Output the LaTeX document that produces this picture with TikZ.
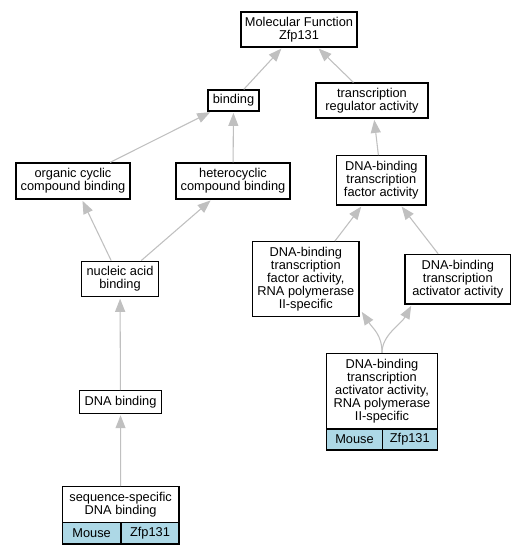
\documentclass[tikz,border=0pt]{standalone}
\usepackage{fontspec}
\setmainfont{Liberation Sans}
\usetikzlibrary{arrows.meta}
\definecolor{edgegray}{HTML}{C0C0C0}
\definecolor{cellblue}{HTML}{ADD8E6}
\begin{document}
\begin{tikzpicture}[x=0.75pt,y=-0.75pt,
  box/.style={draw=black, line width=0.9pt, fill=white, inner sep=0pt, align=center,
    font=\fontsize{9.6}{9.6}\selectfont},
  cell/.style={box, fill=cellblue},
  edge/.style={draw=edgegray, line width=0.8pt, -{Triangle[length=9.75pt,width=7.5pt]}, shorten >=1pt}]
\useasboundingbox (0,0) rectangle (528,555);
\fill[white] (0,0) rectangle (528,555);
% nodes
\node[box, minimum width=116*0.75pt, minimum height=35*0.75pt] (mf) at (299,29.5) {Molecular Function\\Zfp131};
\node[box, minimum width=51*0.75pt, minimum height=21*0.75pt] (bind) at (233.5,100.5) {binding};
\node[box, minimum width=112*0.75pt, minimum height=35*0.75pt] (tra) at (372,100.5) {transcription\\regulator activity};
\node[box, minimum width=114*0.75pt, minimum height=36*0.75pt] (org) at (73,181) {organic cyclic\\compound binding};
\node[box, minimum width=114*0.75pt, minimum height=36*0.75pt] (het) at (233,181) {heterocyclic\\compound binding};
\node[box, minimum width=76.6*0.75pt, minimum height=35.7*0.75pt] (nuc) at (120,279) {nucleic acid\\binding};
\node[box, minimum width=89.3*0.75pt, minimum height=49.3*0.75pt] (tfa) at (381.3,180.3) {DNA-binding\\transcription\\factor activity};
\node[box, minimum width=106.3*0.75pt, minimum height=75*0.75pt] (tfp) at (305.8,279.2) {DNA-binding\\transcription\\factor activity,\\RNA polymerase\\II-specific};
\node[box, minimum width=105.7*0.75pt, minimum height=49.7*0.75pt] (act) at (457.8,279.2) {DNA-binding\\transcription\\activator activity};
\node[box, minimum width=110.6*0.75pt, minimum height=75.7*0.75pt] (actp) at (382,391.2) {DNA-binding\\transcription\\activator activity,\\RNA polymerase\\II-specific};
\node[cell, minimum width=55.6*0.75pt, minimum height=21*0.75pt] (actpm) at (354.5,439.5) {Mouse};
\node[cell, minimum width=55*0.75pt, minimum height=21*0.75pt] (actpz) at (409.8,439.5) {Zfp131};
\node[box, minimum width=81.6*0.75pt, minimum height=22.6*0.75pt] (dna) at (120.5,402) {DNA binding};
\node[box, minimum width=116.7*0.75pt, minimum height=36*0.75pt] (seq) at (120.65,504.7) {sequence-specific\\DNA binding};
\node[cell, minimum width=58.7*0.75pt, minimum height=21.3*0.75pt] (seqm) at (91.65,533.35) {Mouse};
\node[cell, minimum width=58*0.75pt, minimum height=21.3*0.75pt] (seqz) at (150,533.35) {Zfp131};
% edges
\draw[edge] (bind) -- (mf);
\draw[edge] (tra) -- (mf);
\draw[edge] (org) -- (bind);
\draw[edge] (het) -- (bind);
\draw[edge] (nuc) -- (org);
\draw[edge] (nuc) -- (het);
\draw[edge] (dna) -- (nuc);
\draw[edge] (seq) -- (dna);
\draw[edge] (tfa) -- (tra);
\draw[edge] (tfp) -- (tfa);
\draw[edge] (act) -- (tfa);
\draw[edge] (actp.north) .. controls +(0,-18) and +(12,18) .. ([shift={(1.5,-6.5)}]tfp.south east);
\draw[edge] (actp.north) .. controls +(0,-18) and +(-11,20) .. ([shift={(7.5,0)}]act.south west);
\end{tikzpicture}
\end{document}
